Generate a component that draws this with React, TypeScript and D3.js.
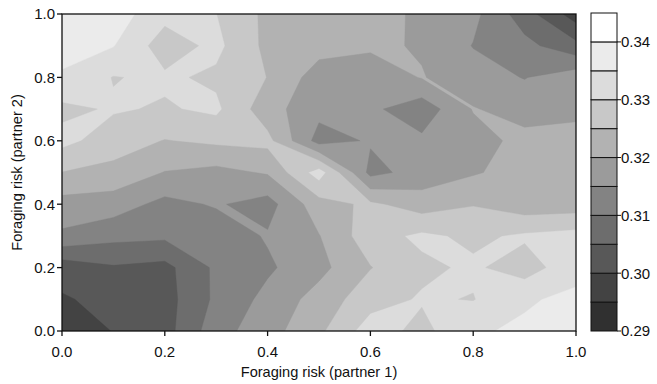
import { useMemo } from 'react'
import * as d3 from 'd3'

// grid axes (foraging risk of each partner)
const riskSteps = [0, 0.1, 0.2, 0.3, 0.4, 0.5, 0.6, 0.7, 0.8, 0.9, 1.0]

// mean value at each grid node; rows run from partner 2 = 1.0 (top) down to 0.0
const row10 = [0.339, 0.3375, 0.3316, 0.3301, 0.3238, 0.3225, 0.3215, 0.3193, 0.3164, 0.3073, 0.2975]
const row09 = [0.3375, 0.33525, 0.3275, 0.3313, 0.3237, 0.322, 0.321, 0.3195, 0.3148, 0.3115, 0.3065]
const row08 = [0.3342, 0.3298, 0.3308, 0.3291, 0.3249, 0.3175, 0.3165, 0.3203, 0.317, 0.3148, 0.318]
const row07 = [0.3289, 0.3305, 0.3295, 0.331, 0.322, 0.3165, 0.316, 0.312, 0.3203, 0.318, 0.319]
const row06 = [0.3315, 0.3275, 0.3248, 0.326, 0.3265, 0.313, 0.3155, 0.316, 0.318, 0.3215, 0.3215]
const row05 = [0.3249, 0.3235, 0.3198, 0.3185, 0.3205, 0.3325, 0.3135, 0.317, 0.3195, 0.322, 0.3225]
const row04 = [0.3181, 0.3175, 0.3135, 0.3155, 0.313, 0.323, 0.326, 0.3225, 0.32475, 0.322, 0.3224]
const row03 = [0.3141, 0.3115, 0.311, 0.312, 0.3155, 0.3198, 0.328, 0.331, 0.329, 0.3308, 0.3319]
const row02 = [0.302, 0.3045, 0.3035, 0.311, 0.3142, 0.3185, 0.3248, 0.329, 0.3308, 0.3275, 0.3335]
const row01 = [0.2995, 0.3015, 0.303, 0.311, 0.3165, 0.322, 0.328, 0.3305, 0.3298, 0.3345, 0.336]
const row00 = [0.2948, 0.3003, 0.303, 0.313, 0.318, 0.324, 0.3325, 0.3285, 0.3345, 0.3357, 0.3375]
const rows = [row10, row09, row08, row07, row06, row05, row04, row03, row02, row01, row00]

// contour levels and legend
const levels = [0.29, 0.295, 0.3, 0.305, 0.31, 0.315, 0.32, 0.325, 0.33, 0.335, 0.34, 0.345]
const levelColors = [
  '#303030', '#434343', '#585858', '#6d6d6d', '#838383', '#9b9b9b',
  '#b2b2b2', '#c8c8c8', '#dcdcdc', '#ebebeb', '#ffffff',
]
const legendTicks = [0.29, 0.3, 0.31, 0.32, 0.33, 0.34]
const axisTicks = [0, 0.2, 0.4, 0.6, 0.8, 1.0]

const W = 657
const H = 384
const m = { left: 62, right: 576, top: 14, bottom: 331 }
const bar = { x0: 591, x1: 617 }
const font = '"Liberation Sans", Arial, sans-serif'

export default function App() {
  const n = riskSteps.length
  const x = d3.scaleLinear().domain([0, 1]).range([m.left, m.right])
  const y = d3.scaleLinear().domain([0, 1]).range([m.bottom, m.top])
  const c = d3.scaleLinear().domain([0.29, 0.345]).range([m.bottom, m.top - 1])

  // d3's marching squares joins the low corners of a saddle cell; the original
  // plot joins the high ones, so contour the negated field and paint the
  // "at or below level" regions from the top level downwards.
  const bands = useMemo(() => {
    const neg = rows.flat().map((v) => -v)
    const tops = levels.slice(1, levels.length - 1).reverse()
    const gen = d3.contours().size([n, n]).thresholds(tops.map((t) => -t))
    const proj = d3.geoTransform({
      point(px: number, py: number) {
        const gx = (px - 0.5) / (n - 1)
        const gy = 1 - (py - 0.5) / (n - 1)
        this.stream.point(x(gx), y(gy))
      },
    })
    const path = d3.geoPath(proj)
    return gen(neg).map((g, i) => ({
      d: path(g) ?? '',
      fill: levelColors[levels.indexOf(tops[i]) - 1],
    }))
  }, [n])

  return (
    <svg
      width={W}
      height={H}
      style={{ position: 'absolute', left: 0, top: 0, background: '#fff' }}
      fontFamily={font}
    >
      <defs>
        <clipPath id="plot">
          <rect x={m.left} y={m.top} width={m.right - m.left} height={m.bottom - m.top} />
        </clipPath>
      </defs>

      <g clipPath="url(#plot)">
        <rect
          x={m.left}
          y={m.top}
          width={m.right - m.left}
          height={m.bottom - m.top}
          fill={levelColors[levelColors.length - 1]}
        />
        {bands.map((b, i) => (
          <path key={i} d={b.d} fill={b.fill} stroke={b.fill} strokeWidth={0.4} />
        ))}
      </g>
      <rect
        x={m.left}
        y={m.top}
        width={m.right - m.left}
        height={m.bottom - m.top}
        fill="none"
        stroke="#111"
        strokeWidth={1.3}
      />

      {/* y axis */}
      {axisTicks.map((t) => (
        <g key={'y' + t}>
          <line x1={m.left - 5} x2={m.left} y1={y(t)} y2={y(t)} stroke="#111" strokeWidth={1.3} />
          <text x={m.left - 7} y={y(t)} dy="0.36em" textAnchor="end" fontSize={15} fill="#111">
            {d3.format('.1f')(t)}
          </text>
        </g>
      ))}
      {/* x axis */}
      {axisTicks.map((t) => (
        <g key={'x' + t}>
          <line x1={x(t)} x2={x(t)} y1={m.bottom} y2={m.bottom + 5} stroke="#111" strokeWidth={1.3} />
          <text x={x(t)} y={m.bottom + 26} textAnchor="middle" fontSize={15} fill="#111">
            {d3.format('.1f')(t)}
          </text>
        </g>
      ))}
      <text x={(m.left + m.right) / 2} y={377} textAnchor="middle" fontSize={14.6} fill="#111">
        Foraging risk (partner 1)
      </text>
      <text
        transform={`translate(22, ${(m.top + m.bottom) / 2}) rotate(-90)`}
        textAnchor="middle"
        fontSize={14.6}
        fill="#111"
      >
        Foraging risk (partner 2)
      </text>

      {/* colour scale */}
      {levelColors.map((col, i) => (
        <rect
          key={'c' + i}
          x={bar.x0}
          y={c(levels[i + 1])}
          width={bar.x1 - bar.x0}
          height={c(levels[i]) - c(levels[i + 1])}
          fill={col}
          stroke="#111"
          strokeWidth={1}
        />
      ))}
      {legendTicks.map((t) => (
        <g key={'l' + t}>
          <line x1={bar.x1} x2={bar.x1 + 4} y1={c(t)} y2={c(t)} stroke="#111" strokeWidth={1} />
          <text x={bar.x1 + 4} y={c(t)} dy="0.36em" fontSize={15} fill="#111">
            {d3.format('.2f')(t)}
          </text>
        </g>
      ))}
    </svg>
  )
}
